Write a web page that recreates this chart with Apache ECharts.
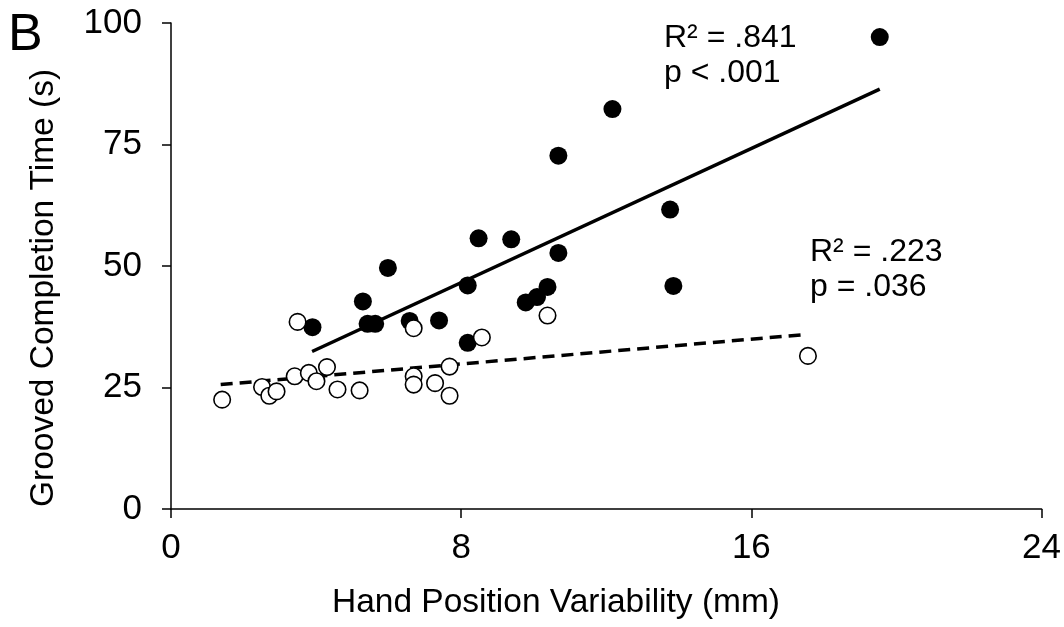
<!DOCTYPE html>
<html><head><meta charset="utf-8">
<script src="https://cdn.jsdelivr.net/npm/echarts@6/dist/echarts.min.js"></script>
<style>html,body{margin:0;padding:0;background:#fff}#c{width:1064px;height:627px}</style>
</head><body><div id="c"></div><script>
const FONT = '"Liberation Sans", Arial, Helvetica, sans-serif';

// axis ticks
const xTicks = [0, 8, 16, 24];
const yTicks = [0, 25, 50, 75, 100];

// filled circles (group 1)
const filledX = [3.90, 5.29, 5.98, 5.42, 5.63, 6.58, 7.39, 8.18, 8.48, 8.18, 9.38, 9.78, 10.09, 10.38, 10.68, 10.68, 12.17, 13.76, 13.85, 19.54];
const filledY = [37.4, 42.7, 49.6, 38.1, 38.1, 38.7, 38.8, 46.0, 55.7, 34.2, 55.5, 42.5, 43.6, 45.7, 52.7, 72.7, 82.3, 61.6, 45.9, 97.1];

// open circles (group 2)
const openX = [1.41, 2.51, 2.71, 2.91, 3.41, 3.49, 3.80, 4.01, 4.30, 4.59, 5.20, 6.69, 6.69, 6.69, 7.28, 7.68, 7.68, 8.57, 10.38, 17.56];
const openY = [22.5, 25.1, 23.3, 24.2, 27.3, 38.5, 28.0, 26.3, 29.2, 24.6, 24.4, 37.2, 27.3, 25.6, 25.9, 29.3, 23.3, 35.3, 39.8, 31.5];

// fit lines (end points)
const fitFilledX = [3.89, 19.54];
const fitFilledY = [32.4, 86.4];
const fitOpenX = [1.37, 17.48];
const fitOpenY = [25.6, 35.9];

// texts
const panelLabel = 'B';
const xTitle = 'Hand Position Variability (mm)';
const yTitle = 'Grooved Completion Time (s)';
const statFilled = ['R² = .841', 'p < .001'];
const statOpen = ['R² = .223', 'p = .036'];

const zip = (a, b) => a.map((v, i) => [v, b[i]]);

const chart = echarts.init(document.getElementById('c'), null, {renderer: 'canvas'});
const axisCommon = {
  axisLine: {show: true, lineStyle: {color: '#000', width: 1.5}},
  axisTick: {show: true, inside: false, length: 9, lineStyle: {color: '#000', width: 1.5}},
  splitLine: {show: false},
};
chart.setOption({
  animation: false,
  backgroundColor: '#fff',
  grid: {left: 171, right: 22, top: 23, bottom: 118, containLabel: false},
  xAxis: Object.assign({
    type: 'value', min: xTicks[0], max: xTicks[xTicks.length - 1], interval: xTicks[1] - xTicks[0],
    axisLabel: {color: '#000', fontSize: 35, fontFamily: FONT, margin: 22}
  }, axisCommon),
  yAxis: Object.assign({
    type: 'value', min: yTicks[0], max: yTicks[yTicks.length - 1], interval: yTicks[1] - yTicks[0],
    axisLabel: {color: '#000', fontSize: 35, fontFamily: FONT, margin: 29}
  }, axisCommon),
  series: [
    {type: 'line', data: zip(fitFilledX, fitFilledY), symbol: 'none', lineStyle: {color: '#000', width: 3.5}, z: 3},
    {type: 'line', data: zip(fitOpenX, fitOpenY), symbol: 'none', lineStyle: {color: '#000', width: 3.5, type: [12, 7]}, z: 3},
    {type: 'scatter', data: zip(filledX, filledY), symbol: 'circle', symbolSize: 18, itemStyle: {color: '#000', opacity: 1}, z: 4},
    {type: 'scatter', data: zip(openX, openY), symbol: 'circle', symbolSize: 16.5, itemStyle: {color: '#fff', borderColor: '#000', borderWidth: 1.6, opacity: 1}, z: 5}
  ],
  graphic: [
    {type: 'text', left: 8, top: 10, style: {text: panelLabel, fontSize: 52, fontFamily: FONT, fill: '#000'}},
    {type: 'text', x: 556, y: 603, style: {text: xTitle, fontSize: 33.5, fontFamily: FONT, fill: '#000', align: 'center', verticalAlign: 'middle'}},
    {type: 'text', x: 44, y: 288, rotation: Math.PI / 2, style: {text: yTitle, fontSize: 33.5, fontFamily: FONT, fill: '#000', align: 'center', verticalAlign: 'middle'}},
    {type: 'text', x: 664, y: 21, style: {text: statFilled.join('\n'), fontSize: 32, lineHeight: 35, fontFamily: FONT, fill: '#000'}},
    {type: 'text', x: 810, y: 235, style: {text: statOpen.join('\n'), fontSize: 32, lineHeight: 35, fontFamily: FONT, fill: '#000'}}
  ]
});
</script></body></html>
